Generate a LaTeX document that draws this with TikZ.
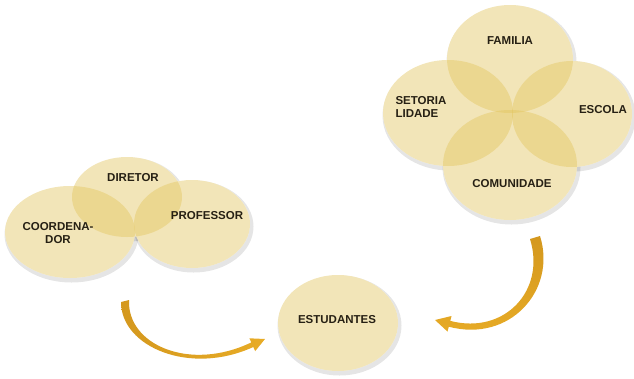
\documentclass[tikz,border=0pt]{standalone}
\usepackage{fontspec}
\setmainfont{Liberation Sans}
\usetikzlibrary{shapes.geometric}
\definecolor{discbase}{RGB}{227,197,92}
\definecolor{discink}{RGB}{38,32,20}
\definecolor{arrowgold}{RGB}{232,172,38}
\definecolor{arrowdark}{RGB}{212,152,30}
\definecolor{arrowlight}{RGB}{246,222,150}
\tikzset{
  disc/.style={ellipse, inner sep=0pt, fill=discbase, fill opacity=0.43},
  discunder/.style={ellipse, inner sep=0pt, fill=white},
  discshadow/.style={ellipse, inner sep=0pt, fill=black, fill opacity=0.10},
  lbl/.style={font=\bfseries\fontsize{11.5}{13}\selectfont, text=discink, align=center, inner sep=0pt},
}
\begin{document}
\begin{tikzpicture}[x=1pt, y=-1pt]
  \useasboundingbox (0,0) rectangle (634,378);

  % soft shadows beneath every disc
  \foreach \cx/\cy/\rx/\ry in {70/232/65/46, 127/197/55/40, 192/224/58/44,
                               510/59/63/54, 448/113/65/53, 572/114/60/53, 510/165/67/55,
                               338/323/60/48} {
    \node[discshadow, minimum width=2*\rx+4, minimum height=2*\ry+4] at (\cx+1.5,\cy+2.5) {};
  }
  % opaque white bases so shadows do not show through the translucent discs
  \foreach \cx/\cy/\rx/\ry in {70/232/65/46, 127/197/55/40, 192/224/58/44,
                               510/59/63/54, 448/113/65/53, 572/114/60/53, 510/165/67/55,
                               338/323/60/48} {
    \node[discunder, minimum width=2*\rx, minimum height=2*\ry] at (\cx,\cy) {};
  }

  % left group
  \node[disc, minimum width=130, minimum height=92] (coord) at (70,232) {};
  \node[disc, minimum width=110, minimum height=80] (dir) at (127,197) {};
  \node[disc, minimum width=116, minimum height=88] (prof) at (192,224) {};

  % right group
  \node[disc, minimum width=126, minimum height=108] (fam) at (510,59) {};
  \node[disc, minimum width=130, minimum height=106] (set) at (448,113) {};
  \node[disc, minimum width=120, minimum height=106] (esc) at (572,114) {};
  \node[disc, minimum width=134, minimum height=110] (com) at (510,165) {};

  % students
  \node[disc, minimum width=120, minimum height=96] (est) at (338,323) {};

  % labels
  \node[lbl] (tcoord) at (58,233) {COORDENA-\\DOR};
  \node[lbl] (tdir) at (133,178) {DIRETOR};
  \node[lbl] (tprof) at (207,216) {PROFESSOR};
  \node[lbl] (tfam) at (510,41) {FAMILIA};
  \node[lbl, align=left] (tset) at (421,107) {SETORIA\\LIDADE};
  \node[lbl] (tesc) at (603,110) {ESCOLA};
  \node[lbl] (tcom) at (512,184) {COMUNIDADE};
  \node[lbl] (test) at (337,320) {ESTUDANTES};

  % curved arrow from the school staff towards the students
  \shade[left color=arrowdark, middle color=arrowlight, right color=arrowgold]
    (121,302) .. controls (121,347) and (190,376) .. (253.3,347)
    -- (255.2,351.1) -- (265,339) -- (249.4,338.3) -- (251.3,342.4)
    .. controls (190,372) and (127,345) .. (129,300) -- cycle;

  % curved arrow from the community towards the students
  \shade[top color=arrowdark, bottom color=arrowgold]
    (530,239) -- (540,236) .. controls (557,290) and (510,343) .. (448.8,326.7)
    -- (447.5,331.6) -- (435,320) -- (451.5,316) -- (450.3,320.9)
    .. controls (505,335) and (546,290) .. (530,239) -- cycle;
\end{tikzpicture}
\end{document}
